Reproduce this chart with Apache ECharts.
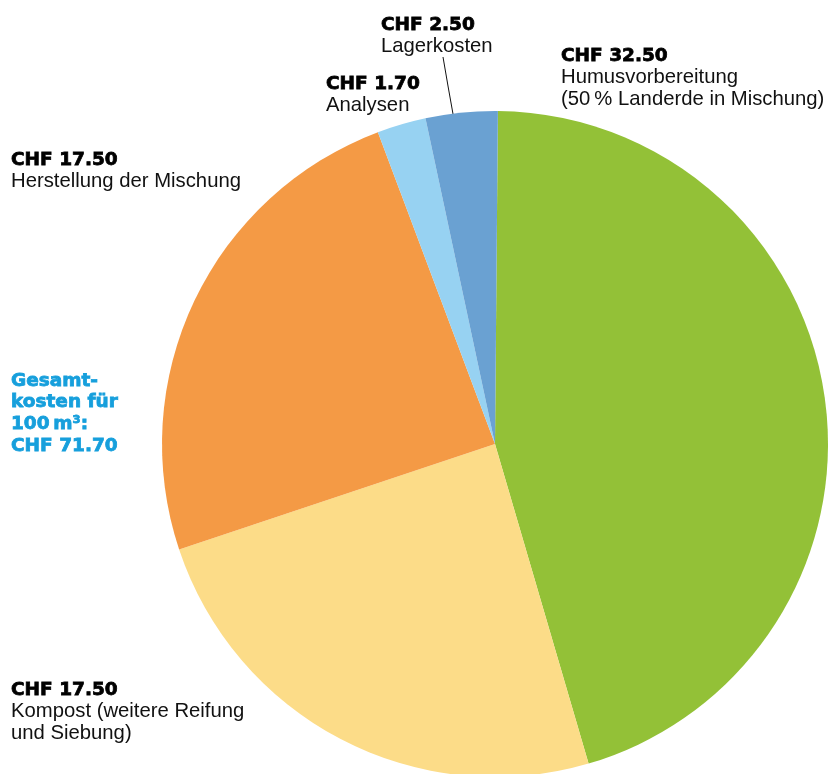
<!DOCTYPE html>
<html>
<head>
<meta charset="utf-8">
<script src="https://cdn.jsdelivr.net/npm/echarts@6/dist/echarts.min.js"></script>
<style>
    html, body { margin: 0; padding: 0; background: #fff; }
    #kostenPie { width: 828px; height: 774px; }
</style>
</head>
<body>
<div id="kostenPie"></div>
<script>
// Kosten für 100 m3 Mischung, im Uhrzeigersinn ab 12 Uhr
var categories = [
    'Humusvorbereitung\n(50\u2009% Landerde in Mischung)',
    'Kompost (weitere Reifung\nund Siebung)',
    'Herstellung der Mischung',
    'Analysen',
    'Lagerkosten'
];
var values = [32.5, 17.5, 17.5, 1.7, 2.5];
var colors = ['#93c137', '#fcdc88', '#f49a45', '#97d2f2', '#6aa1d2'];

var total = 0;
for (var i = 0; i < values.length; i++) {
    total += values[i];
}

// wo die Beschriftungen stehen (links oben)
var labelPos = [[561, 45], [11, 679], [11, 149], [326, 73], [381, 14]];

var myChart = echarts.init(document.getElementById('kostenPie'));

var pieData = [];
for (var i = 0; i < values.length; i++) {
    pieData.push({
        name: categories[i],
        value: values[i],
        itemStyle: { color: colors[i] },
        labelLine: { show: i === 4 }
    });
}

var option = {
    animation: false,
    title: {
        text: 'Gesamt-\nkosten für\n100\u2009m³:\nCHF ' + total.toFixed(2),
        left: 11,
        top: 370,
        padding: 0,
        textStyle: {
            color: '#169fdc',
            fontFamily: 'DejaVu Sans',
            fontWeight: 'bold',
            fontSize: 18.5,
            lineHeight: 21.7,
            textBorderColor: '#169fdc',
            textBorderWidth: 0.8
        }
    },
    series: [
        {
            type: 'pie',
            center: [495, 444],
            radius: 333,
            startAngle: 89.5,
            clockwise: true,
            silent: true,
            avoidLabelOverlap: false,
            itemStyle: { borderWidth: 0 },
            emphasis: { disabled: true },
            data: pieData,
            label: {
                show: true,
                position: 'outside',
                overflow: 'none',
                formatter: function (p) {
                    var lines = p.name.split('\n');
                    var s = '{b|CHF ' + p.value.toFixed(2) + '}';
                    for (var k = 0; k < lines.length; k++) {
                        s += '\n{n|' + lines[k] + '}';
                    }
                    return s;
                },
                rich: {
                    b: {
                        fontFamily: 'DejaVu Sans',
                        fontWeight: 'bold',
                        fontSize: 18.5,
                        color: '#000',
                        lineHeight: 21.7,
                        textBorderColor: '#000',
                        textBorderWidth: 0.8
                    },
                    n: {
                        fontFamily: 'Liberation Sans',
                        fontSize: 20.3,
                        color: '#111',
                        lineHeight: 21.7
                    }
                }
            },
            labelLine: {
                lineStyle: { color: '#111', width: 1 }
            },
            labelLayout: function (params) {
                var pos = labelPos[params.dataIndex];
                var res = {
                    x: pos[0],
                    y: pos[1],
                    align: 'left',
                    verticalAlign: 'top',
                    hideOverlap: false,
                    moveOverlap: null
                };
                if (params.dataIndex === 4) {
                    res.labelLinePoints = [[443, 57], [448, 86], [453, 114]];
                }
                return res;
            }
        }
    ]
};
myChart.setOption(option);
</script>
</body>
</html>
